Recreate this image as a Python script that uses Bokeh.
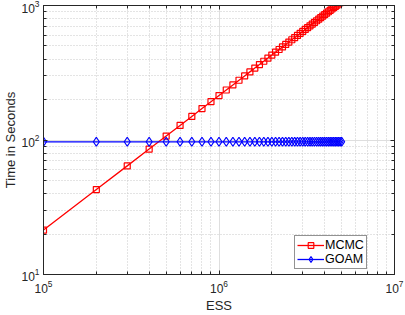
from bokeh.plotting import figure
from bokeh.models import (LogAxis, FixedTicker, Legend, LegendItem, Range1d,
                          CustomJSTickFormatter, LogTickFormatter, ColumnDataSource)
from bokeh.embed import file_html
from bokeh.resources import INLINE

# ---- data ----
ess = [100000, 200000, 300000, 400000, 500000, 600000, 700000, 800000, 900000, 1000000,
       1100000, 1200000, 1300000, 1400000, 1500000, 1600000, 1700000, 1800000, 1900000, 2000000,
       2100000, 2200000, 2300000, 2400000, 2500000, 2600000, 2700000, 2800000, 2900000, 3000000,
       3100000, 3200000, 3300000, 3400000, 3500000, 3600000, 3700000, 3800000, 3900000, 4000000,
       4100000, 4200000, 4300000, 4400000, 4500000, 4600000, 4700000, 4800000, 4900000, 5000000]
mcmc_time = [21.4, 42.8, 64.2, 85.6, 107.0, 128.4, 149.8, 171.2, 192.6, 214.0,
             235.4, 256.8, 278.2, 299.6, 321.0, 342.4, 363.8, 385.2, 406.6, 428.0,
             449.4, 470.8, 492.2, 513.6, 535.0, 556.4, 577.8, 599.2, 620.6, 642.0,
             663.4, 684.8, 706.2, 727.6, 749.0, 770.4, 791.8, 813.2, 834.6, 856.0,
             877.4, 898.8, 920.2, 941.6, 963.0, 984.4, 1005.8, 1027.2, 1048.6, 1070.0]
goam_time = [97, 97, 97, 97, 97, 97, 97, 97, 97, 97,
             97, 97, 97, 97, 97, 97, 97, 97, 97, 97,
             97, 97, 97, 97, 97, 97, 97, 97, 97, 97,
             97, 97, 97, 97, 97, 97, 97, 97, 97, 97,
             97, 97, 97, 97, 97, 97, 97, 97, 97, 97]
series_names = ["MCMC", "GOAM"]
x_major = [1e5, 1e6, 1e7]          # tick labels: 10^5, 10^6, 10^7
y_major = [1e1, 1e2, 1e3]          # tick labels: 10^1, 10^2, 10^3
x_label = "ESS"
y_label = "Time in Seconds"

AX = "#262626"
FONT = "Liberation Sans"


def minor_of(majors):
    out = []
    for m in majors[:-1]:
        out += [m * k for k in range(2, 10)]
    return out


p = figure(width=405, height=315, x_axis_type="log", y_axis_type="log",
           x_range=Range1d(1e5, 1e7), y_range=Range1d(10, 1000),
           output_backend="svg", toolbar_location=None,
           min_border_left=43, min_border_right=11, min_border_top=5, min_border_bottom=41,
           styles={"position": "absolute", "top": "0px", "left": "0px"})
p.background_fill_color = "white"
p.border_fill_color = "white"
p.outline_line_color = AX
p.outline_line_width = 1


def style_axis(ax, ticks, show):
    ax.ticker = FixedTicker(ticks=ticks, minor_ticks=minor_of(ticks))
    ax.major_tick_in = 4
    ax.major_tick_out = 0
    ax.minor_tick_in = 3
    ax.minor_tick_out = 0
    ax.axis_line_color = AX
    ax.major_tick_line_color = AX
    ax.minor_tick_line_color = AX
    ax.major_label_text_font = FONT
    ax.major_label_text_color = AX
    if show:
        ax.formatter = LogTickFormatter()
        ax.major_label_text_font_size = "12px"
    else:
        ax.formatter = CustomJSTickFormatter(code="return '';")
        ax.major_label_standoff = 0


style_axis(p.xaxis[0], x_major, True)
style_axis(p.yaxis[0], y_major, True)
p.xaxis.major_label_standoff = 5
p.yaxis.major_label_standoff = 4
p.xaxis.axis_label = x_label
p.yaxis.axis_label = y_label
for ax in (p.xaxis[0], p.yaxis[0]):
    ax.axis_label_text_font = FONT
    ax.axis_label_text_font_size = "13px"
    ax.axis_label_text_font_style = "normal"
    ax.axis_label_text_color = AX
p.xaxis.axis_label_standoff = 2
p.yaxis.axis_label_standoff = 0

top = LogAxis()
style_axis(top, x_major, False)
p.add_layout(top, "above")
right = LogAxis()
style_axis(right, y_major, False)
p.add_layout(right, "right")

for g in (p.xgrid[0], p.ygrid[0]):
    g.grid_line_color = "#dedede"
    g.grid_line_width = 1
    g.minor_grid_line_color = "#c8c8c8"
    g.minor_grid_line_dash = "1 2"
    g.minor_grid_line_width = 1

src = ColumnDataSource(dict(x=ess, m=mcmc_time, g=goam_time))

l1 = p.line("x", "m", source=src, line_color="red", line_width=1.3)
s1 = p.scatter("x", "m", source=src, marker="square", size=6, line_color="red",
               fill_alpha=0, line_width=1.2)
l2 = p.line("x", "g", source=src, line_color="blue", line_width=1.3)
s2 = p.scatter("x", "g", source=src, marker="diamond", size=9, line_color="blue",
               fill_alpha=0, line_width=1.2)

legend = Legend(items=[LegendItem(label=series_names[0], renderers=[l1, s1]),
                       LegendItem(label=series_names[1], renderers=[l2, s2])],
                location=(251, 5))
legend.border_line_color = AX
legend.border_line_width = 1
legend.background_fill_color = "white"
legend.background_fill_alpha = 1
legend.padding = 2
legend.spacing = 0
legend.margin = 0
legend.glyph_width = 27
legend.glyph_height = 14
legend.label_height = 14
legend.label_standoff = 1
legend.label_text_font = FONT
legend.label_text_font_size = "12.5px"
legend.label_text_color = "black"
p.add_layout(legend, "center")

open("out.html", "w").write(file_html(p, INLINE))
